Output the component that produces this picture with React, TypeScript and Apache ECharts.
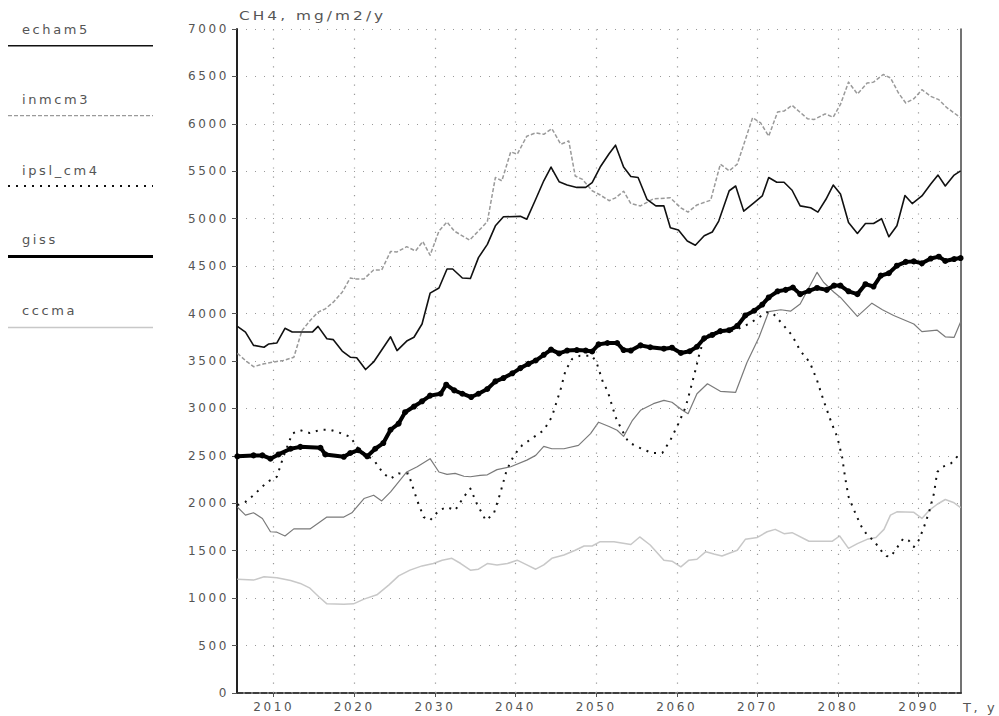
import React, { useEffect, useRef } from 'react';
import * as echarts from 'echarts';

const yearTicks = [2010, 2020, 2030, 2040, 2050, 2060, 2070, 2080, 2090];
const titleText = 'CH4, mg/m2/y';
const xName = 'T, y';
const legendNames = ['echam5', 'inmcm3', 'ipsl_cm4', 'giss', 'cccma'];

const echam5 = [
  [2005.5, 3865], [2006.5, 3805], [2007.5, 3665], [2008.8, 3645], [2009.4, 3680], [2010.4, 3690], [2011.4, 3845], [2012.3, 3805], [2014.8, 3805], [2015.5, 3865],
  [2016.6, 3735], [2017.4, 3725], [2018.5, 3605], [2019.5, 3540], [2020.3, 3535], [2021.4, 3410], [2022.4, 3490], [2024.5, 3755], [2025.3, 3610], [2026.5, 3710],
  [2027.4, 3750], [2028.4, 3890], [2029.4, 4215], [2030.5, 4270], [2031.5, 4470], [2032.2, 4470], [2033.4, 4375], [2034.4, 4370], [2035.4, 4590], [2036.5, 4730],
  [2037.5, 4925], [2038.5, 5020], [2040.6, 5025], [2041.4, 4995], [2042.5, 5205], [2043.5, 5400], [2044.4, 5545], [2045.4, 5390], [2046.4, 5355], [2047.6, 5330],
  [2048.7, 5330], [2049.5, 5380], [2050.5, 5545], [2051.6, 5685], [2052.4, 5775], [2053.4, 5545], [2054.3, 5445], [2055.2, 5435], [2056.3, 5205], [2057.4, 5135],
  [2058.4, 5135], [2059.2, 4905], [2060.2, 4880], [2061.3, 4765], [2062.3, 4720], [2063.4, 4820], [2064.4, 4860], [2065.2, 4975], [2066.5, 5295], [2067.3, 5345],
  [2068.3, 5080], [2069.6, 5170], [2070.6, 5240], [2071.4, 5435], [2072.4, 5385], [2073.3, 5385], [2074.3, 5300], [2075.3, 5135], [2076.6, 5115], [2077.5, 5070],
  [2078.5, 5205], [2079.4, 5355], [2080.3, 5260], [2081.3, 4960], [2082.4, 4845], [2083.4, 4950], [2084.4, 4950], [2085.4, 5000], [2086.3, 4810], [2087.3, 4925],
  [2088.3, 5245], [2089.2, 5160], [2090.4, 5240], [2091.5, 5365], [2092.4, 5460], [2093.3, 5345], [2094.4, 5460], [2095.2, 5505]
];

const inmcm3 = [
  [2005.5, 3580], [2006.5, 3505], [2007.5, 3440], [2008.8, 3470], [2010, 3490], [2011.2, 3505], [2012.5, 3540], [2013.5, 3820], [2014.5, 3925], [2015.5, 4015],
  [2016.4, 4050], [2017.4, 4120], [2018.5, 4225], [2019.5, 4375], [2020.1, 4365], [2021.2, 4365], [2022.4, 4460], [2023.4, 4460], [2024.5, 4655], [2025.3, 4650],
  [2026.5, 4705], [2027.6, 4660], [2028.5, 4760], [2029.4, 4615], [2030.5, 4870], [2031.5, 4965], [2032.4, 4870], [2033.4, 4820], [2034.3, 4775], [2035.4, 4870],
  [2036.5, 4970], [2037.5, 5435], [2038.3, 5400], [2039.4, 5705], [2040.2, 5680], [2041.4, 5870], [2042.5, 5905], [2043.5, 5890], [2044.5, 5950], [2045.6, 5785],
  [2046.6, 5820], [2047.4, 5450], [2048.3, 5415], [2049.5, 5295], [2050.5, 5250], [2051.6, 5190], [2052.4, 5220], [2053.4, 5290], [2054.3, 5160], [2055.5, 5135],
  [2057.1, 5210], [2059.2, 5220], [2060.5, 5115], [2061.4, 5070], [2062.5, 5145], [2064.2, 5195], [2065.4, 5575], [2066.5, 5505], [2067.5, 5575], [2069.4, 6065],
  [2070.4, 6010], [2071.4, 5870], [2072.5, 6125], [2073.3, 6135], [2074.3, 6195], [2076.2, 6055], [2077, 6045], [2078.4, 6105], [2079.4, 6070], [2080.3, 6205],
  [2081.3, 6440], [2082.4, 6315], [2083.6, 6430], [2084.4, 6440], [2085.6, 6520], [2086.5, 6485], [2087.5, 6325], [2088.4, 6220], [2089.4, 6265], [2090.4, 6360],
  [2091.5, 6290], [2092.5, 6255], [2093.5, 6170], [2095.2, 6065]
];

const ipslCm4 = [
  [2005.5, 1980], [2006.5, 2015], [2007.5, 2085], [2009.2, 2225], [2010.4, 2280], [2011.2, 2490], [2012.3, 2735], [2013.3, 2770], [2014.5, 2740], [2015.8, 2775],
  [2017, 2775], [2018.3, 2740], [2019.5, 2700], [2020.5, 2575], [2021.6, 2505], [2022.6, 2435], [2023.6, 2315], [2024.5, 2260], [2025.5, 2315], [2026.7, 2315],
  [2027.8, 2030], [2028.6, 1855], [2029.4, 1820], [2030.5, 1925], [2031.5, 1960], [2032.5, 1925], [2033.6, 2070], [2034.4, 2155], [2035.2, 1995], [2036.3, 1820],
  [2037.3, 1890], [2038.1, 2105], [2038.9, 2350], [2039.8, 2505], [2040.8, 2610], [2042.3, 2700], [2043.5, 2770], [2044.5, 2910], [2045.6, 3205], [2046.2, 3400],
  [2047, 3520], [2048, 3555], [2049.5, 3555], [2050.1, 3470], [2050.9, 3260], [2051.4, 3190], [2052.4, 2910], [2053.2, 2770], [2054, 2645], [2055.1, 2595],
  [2056.9, 2530], [2058.2, 2530], [2059.2, 2665], [2060.2, 2840], [2061.1, 3015], [2061.7, 3205], [2062.3, 3400], [2062.9, 3610], [2063.6, 3765], [2064.8, 3805],
  [2067.1, 3820], [2068.9, 3890], [2070.2, 3960], [2071.2, 4015], [2072, 3995], [2073.1, 3890], [2074.3, 3770], [2075.3, 3610], [2076.5, 3485], [2077.4, 3295],
  [2078.2, 3085], [2079.2, 2845], [2079.9, 2700], [2080.5, 2490], [2080.9, 2260], [2081.3, 2070], [2082, 1925], [2082.8, 1770], [2083.6, 1665], [2084.4, 1610],
  [2085.3, 1505], [2086, 1445], [2086.5, 1435], [2087.1, 1505], [2088.1, 1630], [2088.8, 1605], [2089.4, 1540], [2090, 1610], [2090.6, 1735], [2091.3, 1910],
  [2091.9, 2105], [2092.3, 2330], [2093, 2385], [2094, 2420], [2095.2, 2530]
];

const giss = [
  [2005.5, 2495], [2007.5, 2505], [2008.6, 2505], [2009.6, 2470], [2010.6, 2515], [2012.1, 2575], [2013.3, 2595], [2015.8, 2585], [2016.4, 2515], [2018.7, 2490],
  [2019.5, 2530], [2020.5, 2560], [2021.6, 2495], [2022.6, 2575], [2023.6, 2635], [2024.5, 2775], [2025.5, 2840], [2026.3, 2960], [2027.4, 3020], [2028.4, 3075],
  [2029.4, 3135], [2030.7, 3155], [2031.4, 3250], [2032.4, 3190], [2033.4, 3155], [2034.5, 3120], [2035.4, 3155], [2036.5, 3205], [2037.5, 3285], [2038.5, 3320],
  [2039.6, 3370], [2040.6, 3425], [2041.6, 3470], [2042.5, 3505], [2043.5, 3565], [2044.4, 3620], [2045.4, 3580], [2046.4, 3610], [2047.6, 3615], [2048.7, 3610],
  [2049.5, 3600], [2050.3, 3675], [2051.4, 3690], [2052.6, 3690], [2053.4, 3615], [2054.3, 3610], [2055.5, 3665], [2056.7, 3645], [2058.4, 3630], [2059.4, 3640],
  [2060.5, 3585], [2061.6, 3603], [2062.5, 3650], [2063.4, 3740], [2064.4, 3775], [2065.4, 3815], [2066.5, 3825], [2067.5, 3870], [2068.5, 3980], [2069.6, 4030],
  [2070.6, 4095], [2071.4, 4170], [2072.5, 4235], [2073.5, 4250], [2074.4, 4275], [2075.3, 4205], [2076.4, 4240], [2077.4, 4270], [2078.6, 4250], [2079.5, 4295],
  [2080.3, 4295], [2081.3, 4235], [2082.4, 4205], [2083.4, 4310], [2084.4, 4285], [2085.3, 4400], [2086.3, 4425], [2087.3, 4505], [2088.4, 4545], [2089.4, 4550],
  [2090.4, 4530], [2091.5, 4580], [2092.5, 4600], [2093.3, 4555], [2094.4, 4575], [2095.2, 4585]
];

const cccma = [
  [2005.5, 1200], [2007.5, 1190], [2008.8, 1225], [2010.4, 1215], [2012.1, 1185], [2013.3, 1155], [2014.5, 1105], [2015.6, 1015], [2016.6, 940], [2018.7, 935],
  [2019.9, 940], [2021.2, 990], [2022.8, 1035], [2024.3, 1140], [2025.5, 1235], [2026.9, 1295], [2028.4, 1340], [2029.8, 1365], [2030.9, 1400], [2032.1, 1420],
  [2033.2, 1365], [2034.4, 1295], [2035.4, 1305], [2036.5, 1365], [2037.7, 1350], [2039, 1365], [2040.2, 1400], [2041.4, 1350], [2042.5, 1305], [2043.5, 1350],
  [2044.5, 1420], [2046, 1455], [2047.4, 1505], [2048.5, 1550], [2049.5, 1550], [2050.5, 1595], [2052.2, 1595], [2054.3, 1565], [2055.4, 1645], [2056.7, 1560],
  [2058.4, 1400], [2059.4, 1390], [2060.5, 1330], [2061.5, 1400], [2062.5, 1410], [2063.6, 1490], [2064.6, 1465], [2065.6, 1445], [2067.5, 1505], [2068.5, 1620],
  [2070, 1640], [2071.2, 1700], [2072.2, 1725], [2073.3, 1680], [2074.3, 1690], [2076.4, 1600], [2079.3, 1600], [2080.2, 1655], [2081.3, 1525], [2082.4, 1575],
  [2083.6, 1620], [2084.7, 1640], [2085.7, 1725], [2086.5, 1875], [2087.3, 1910], [2089.4, 1905], [2090.4, 1840], [2091.3, 1925], [2092.3, 1990], [2093.3, 2040],
  [2094.4, 2005], [2095.2, 1955]
];

const sixthModel = [
  [2005.5, 1960], [2006.5, 1875], [2007.5, 1900], [2008.6, 1840], [2009.6, 1700], [2010.4, 1695], [2011.4, 1655], [2012.5, 1730], [2014.5, 1730], [2015.6, 1795],
  [2016.6, 1855], [2018.7, 1855], [2019.7, 1900], [2021.2, 2050], [2022.4, 2085], [2023.4, 2025], [2024.5, 2120], [2025.5, 2225], [2026.5, 2330], [2027.8, 2385],
  [2029.4, 2470], [2030.5, 2330], [2031.5, 2305], [2032.5, 2315], [2033.6, 2285], [2034.4, 2280], [2035.6, 2295], [2036.5, 2300], [2037.7, 2355], [2039.4, 2385],
  [2041.4, 2455], [2042.5, 2505], [2043.5, 2600], [2044.5, 2575], [2046, 2575], [2047.8, 2610], [2049.3, 2735], [2050.3, 2855], [2051.6, 2810], [2052.6, 2770],
  [2053.4, 2705], [2054.5, 2875], [2055.5, 2980], [2057.1, 3050], [2058.4, 3085], [2059.4, 3065], [2060.7, 2980], [2061.4, 2945], [2062.5, 3155], [2063.8, 3260],
  [2065.4, 3180], [2067.3, 3170], [2068.7, 3485], [2070.2, 3750], [2071.4, 4020], [2072.9, 4040], [2074.1, 4025], [2075.3, 4100], [2077.4, 4435], [2078.2, 4330],
  [2079.5, 4225], [2080.3, 4170], [2082.4, 3970], [2084.2, 4110], [2085.5, 4040], [2086.9, 3980], [2089.4, 3890], [2090.4, 3810], [2092.3, 3825], [2093.3, 3755],
  [2094.4, 3750], [2095.2, 3910]
];

const X_MIN = 2005.45;
const X_MAX = 2095.25;
const FONT = 'DejaVu Sans';
const TEXT_COLOR = '#555';
const GRID_COLOR = '#999';

const legendStyles = [
  { color: '#111', width: 1.5, dash: null as any },
  { color: '#9a9a9a', width: 1.2, dash: [4, 2] },
  { color: '#111', width: 2, dash: [2, 6] },
  { color: '#000', width: 3, dash: null as any },
  { color: '#c8c8c8', width: 1.5, dash: null as any }
];
const legendTextY = [29, 99, 170, 239, 310];
const legendLineY = [45.7, 115.7, 186, 256.5, 327.5];

function buildOption() {
  const graphics: any[] = [];
  legendNames.forEach((name, i) => {
    const st = legendStyles[i];
    graphics.push({
      type: 'text', x: 22, y: legendTextY[i], silent: true,
      style: { text: name, fill: TEXT_COLOR, font: `13px ${FONT}`, textAlign: 'left', textVerticalAlign: 'middle' }
    });
    graphics.push({
      type: 'line', silent: true,
      shape: { x1: 8, y1: legendLineY[i], x2: 153, y2: legendLineY[i] },
      style: { stroke: st.color, lineWidth: st.width, lineDash: st.dash }
    });
  });
  graphics.push({
    type: 'text', x: 239, y: 15, scaleX: 1.18, silent: true,
    style: { text: titleText, fill: TEXT_COLOR, font: `13px ${FONT}`, textAlign: 'left', textVerticalAlign: 'middle' }
  });
  graphics.push({
    type: 'text', x: 963, y: 707, silent: true,
    style: { text: xName, fill: TEXT_COLOR, font: `13px ${FONT}`, textAlign: 'left', textVerticalAlign: 'middle' }
  });

  const baseLine = (name: string, data: number[][], color: string, width: number, type: any, z: number) => ({
    name, type: 'line', data, showSymbol: false, symbol: 'none', silent: true, z,
    emphasis: { disabled: true },
    lineStyle: { color, width, type, cap: 'butt', join: 'round' }
  });

  const cccmaSeries: any = baseLine('cccma', cccma, '#c8c8c8', 1.5, 'solid', 2);
  // vertical dotted grid lines at the decade ticks
  cccmaSeries.markLine = {
    silent: true, symbol: ['none', 'none'], label: { show: false }, animation: false,
    emphasis: { disabled: true }, precision: 1,
    lineStyle: { color: GRID_COLOR, type: [1.2, 8], width: 1.2, opacity: 1 },
    data: yearTicks.map((v) => ({ xAxis: v }))
  };

  const gissSeries: any = baseLine('giss', giss, '#000', 4, 'solid', 7);
  gissSeries.showSymbol = true;
  gissSeries.symbol = 'circle';
  gissSeries.symbolSize = 6;
  gissSeries.itemStyle = { color: '#000' };

  const plainNumber = (v: number) => String(v);

  return {
    animation: false,
    backgroundColor: '#fff',
    textStyle: { fontFamily: FONT },
    grid: { left: 237, top: 29, right: 38, bottom: 23, containLabel: false, outerBoundsMode: 'none' },
    xAxis: [
      {
        type: 'value', position: 'bottom', min: X_MIN, max: X_MAX,
        axisLine: { show: true, lineStyle: { color: '#333', width: 1.6, type: [6, 2] } },
        axisTick: { show: true, customValues: yearTicks, length: 4, lineStyle: { color: '#555', width: 1 } },
        axisLabel: { customValues: yearTicks, color: TEXT_COLOR, fontSize: 12, fontFamily: FONT, margin: 8, formatter: plainNumber },
        splitLine: { show: false }
      },
      {
        type: 'value', position: 'top', min: X_MIN, max: X_MAX,
        axisLine: { show: true, lineStyle: { color: '#333', width: 1.6, type: [6, 2] } },
        axisTick: { show: false }, axisLabel: { show: false }, splitLine: { show: false }
      }
    ],
    yAxis: [
      {
        type: 'value', position: 'left', min: 0, max: 7000, interval: 500,
        axisLine: { show: true, lineStyle: { color: '#222', width: 2 } },
        axisTick: { show: true, length: 5, lineStyle: { color: '#555', width: 1 } },
        axisLabel: { color: TEXT_COLOR, fontSize: 12, fontFamily: FONT, margin: 8, formatter: plainNumber },
        splitLine: { show: true, lineStyle: { color: GRID_COLOR, type: [1, 8], width: 1 } }
      },
      {
        type: 'value', position: 'right', min: 0, max: 7000,
        axisLine: { show: true, lineStyle: { color: '#444', width: 1.5 } },
        axisTick: { show: false }, axisLabel: { show: false }, splitLine: { show: false }
      }
    ],
    graphic: graphics,
    series: [
      cccmaSeries,
      baseLine('sixth model', sixthModel, '#7a7a7a', 1.2, 'solid', 3),
      baseLine('ipsl_cm4', ipslCm4, '#111', 2, [2, 6], 4),
      baseLine('inmcm3', inmcm3, '#9a9a9a', 1.5, [4, 2], 5),
      baseLine('echam5', echam5, '#111', 1.6, 'solid', 6),
      gissSeries
    ]
  };
}

export default function App() {
  const ref = useRef<HTMLDivElement>(null);
  useEffect(() => {
    if (!ref.current) return;
    const chart = echarts.init(ref.current, null, { renderer: 'svg' });
    chart.setOption(buildOption() as any);
    return () => chart.dispose();
  }, []);
  return (
    <div className="ch4chart" style={{ position: 'absolute', left: 0, top: 0, width: 999, height: 716, background: '#fff' }}>
      <style>{'.ch4chart text { letter-spacing: 2.6px; }'}</style>
      <div ref={ref} style={{ width: 999, height: 716 }} />
    </div>
  );
}
